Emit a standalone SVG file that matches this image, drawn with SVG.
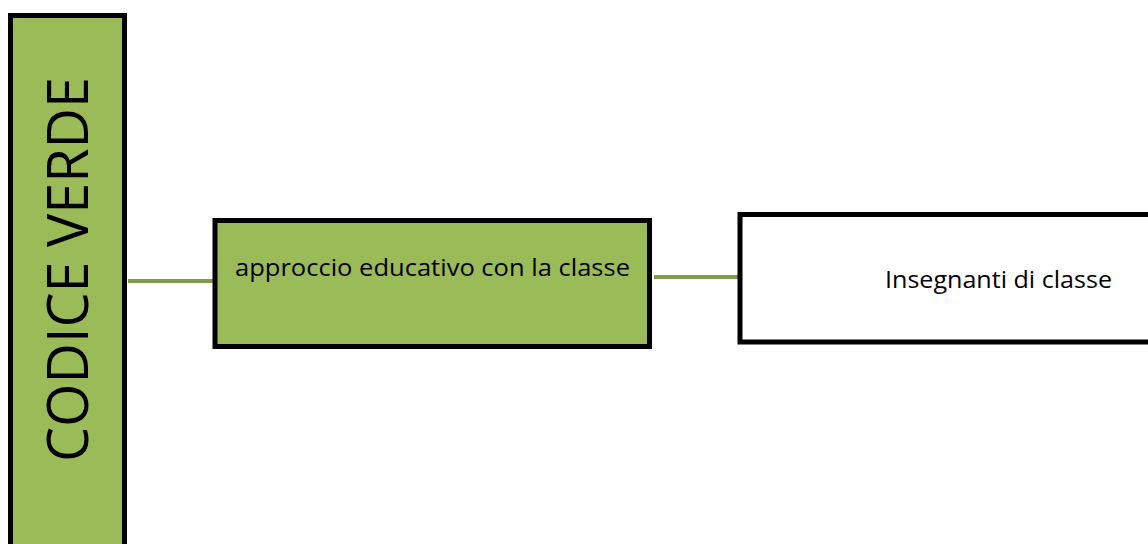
<svg xmlns="http://www.w3.org/2000/svg" width="1148" height="544" viewBox="0 0 1148 544">
<style>
.box{stroke:#000;stroke-width:5}
.green{fill:#9bbb59}
.white{fill:#fff}
.conn{stroke:#7f9a48;stroke-width:4;fill:none}
.t{font-family:"Open Sans","Liberation Sans",sans-serif;fill:#000}
</style>
<rect width="1148" height="544" fill="#fff"/>
<g id="connectors">
<line class="conn" x1="128" y1="281" x2="213" y2="281"/>
<line class="conn" x1="654" y1="277" x2="738" y2="277"/>
</g>
<g id="codice-verde">
<rect class="box green" x="10.5" y="15.5" width="114" height="540"/>
<text class="t" x="0" y="0" font-size="57" text-anchor="middle" textLength="385" lengthAdjust="spacingAndGlyphs" transform="translate(88,269.5) rotate(-90)">CODICE VERDE</text>
</g>
<g id="approccio">
<rect class="box green" x="215" y="220.5" width="434.5" height="126"/>
<text class="t" x="235" y="276" font-size="24" textLength="395" lengthAdjust="spacingAndGlyphs">approccio educativo con la classe</text>
</g>
<g id="insegnanti">
<rect class="box white" x="740" y="214.5" width="420" height="127.5"/>
<text class="t" x="885" y="288" font-size="23" textLength="227" lengthAdjust="spacingAndGlyphs">Insegnanti di classe</text>
</g>
</svg>
